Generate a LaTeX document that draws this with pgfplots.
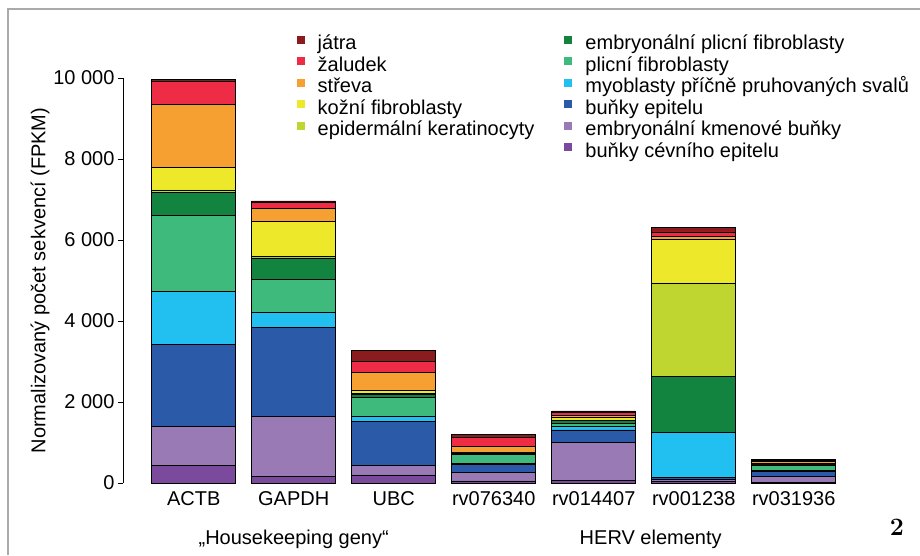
\documentclass[border=0pt]{standalone}
\usepackage{fontspec}
\setmainfont{Liberation Sans}
\newfontfamily\lmfont{Latin Modern Roman}
\usepackage{pgfplots}
\usepackage{pgfplotstable}
\pgfplotsset{compat=1.18}
\definecolor{cjat}{RGB}{140,27,30}
\definecolor{czal}{RGB}{238,44,70}
\definecolor{cstr}{RGB}{247,160,50}
\definecolor{ckoz}{RGB}{238,232,42}
\definecolor{cepid}{RGB}{192,214,48}
\definecolor{cemb}{RGB}{19,132,64}
\definecolor{cplic}{RGB}{61,186,124}
\definecolor{cmyo}{RGB}{34,192,240}
\definecolor{cepi}{RGB}{43,91,168}
\definecolor{cstem}{RGB}{154,122,181}
\definecolor{ccev}{RGB}{123,74,156}
\definecolor{cframe}{RGB}{170,170,170}
\pgfplotstableread{
x cev stem epi myo plic emb epid koz str zal jat
0 444 946 2042 1308 1870 560 65 560 1563 552 65
1 156 1498 2181 380 815 530 28 881 304 170 20
2 198 246 1070 123 469 85 30 75 427 272 281
3 50 205 207 24 230 25 10 14 131 232 74
4 74 930 305 81 83 66 17 74 49 57 42
5 50 30 52 1111 10 1382 2305 1078 66 116 106
6 25 140 131 20 112 20 8 30 40 40 20
}\data
\begin{document}
\begin{tikzpicture}[font=\fontsize{20}{24}\selectfont]
\useasboundingbox (0,0) rectangle (920pt,555pt);
\draw[cframe, line width=1.5pt] (8pt,0) -- (8pt,546pt) -- (920pt,546pt);
\begin{axis}[
  at={(123pt,72pt)}, anchor=south west,
  scale only axis, width=770.7pt, height=405pt,
  xmin=-0.707, xmax=7, ymin=0, ymax=10000,
  ybar stacked, bar width=0.84,
  axis y line*=left, axis x line*=bottom,
  x axis line style={draw=none},
  y axis line style={black, line width=0.8pt, -},
  scaled y ticks=false,
  ytick={0,2000,4000,6000,8000,10000},
  yticklabels={0,2 000,4 000,6 000,8 000,10 000},
  xtick={0,...,6},
  xticklabels={ACTB,GAPDH,UBC,rv076340,rv014407,rv001238,rv031936},
  xtick style={draw=none},
  ytick style={black, line width=0.8pt},
  tick align=outside, major tick length=5pt,
  ylabel={Normalizovaný počet sekvencí (FPKM)},
  ylabel style={at={(axis description cs:-0.1077,0.5)}, anchor=center},
  clip=false,
  every axis plot/.append style={draw=black, line width=0.6pt},
  legend image code/.code={\fill[#1, draw=none] (0pt,1pt) rectangle (8pt,9pt);},
  transpose legend, legend columns=6, legend cell align=left,
  legend style={at={(axis cs:1.03,11090)}, anchor=north west, draw=none, fill=none,
    inner sep=0pt, outer sep=0pt, row sep=0pt,
    /tikz/every odd column/.append style={column sep=11pt},
    /tikz/every even column/.append style={column sep=28pt},
    nodes={text height=15pt, text depth=4.5pt, inner ysep=1pt}},
]
\addlegendimage{fill=cjat}\addlegendentry{játra}
\addlegendimage{fill=czal}\addlegendentry{žaludek}
\addlegendimage{fill=cstr}\addlegendentry{střeva}
\addlegendimage{fill=ckoz}\addlegendentry{kožní fibroblasty}
\addlegendimage{fill=cepid}\addlegendentry{epidermální keratinocyty}
\addlegendimage{empty legend}\addlegendentry{}
\addlegendimage{fill=cemb}\addlegendentry{embryonální plicní fibroblasty}
\addlegendimage{fill=cplic}\addlegendentry{plicní fibroblasty}
\addlegendimage{fill=cmyo}\addlegendentry{myoblasty příčně pruhovaných svalů}
\addlegendimage{fill=cepi}\addlegendentry{buňky epitelu}
\addlegendimage{fill=cstem}\addlegendentry{embryonální kmenové buňky}
\addlegendimage{fill=ccev}\addlegendentry{buňky cévního epitelu}
\addplot[fill=ccev] table[x=x,y=cev]{\data};
\addplot[fill=cstem] table[x=x,y=stem]{\data};
\addplot[fill=cepi] table[x=x,y=epi]{\data};
\addplot[fill=cmyo] table[x=x,y=myo]{\data};
\addplot[fill=cplic] table[x=x,y=plic]{\data};
\addplot[fill=cemb] table[x=x,y=emb]{\data};
\addplot[fill=cepid] table[x=x,y=epid]{\data};
\addplot[fill=ckoz] table[x=x,y=koz]{\data};
\addplot[fill=cstr] table[x=x,y=str]{\data};
\addplot[fill=czal] table[x=x,y=zal]{\data};
\addplot[fill=cjat] table[x=x,y=jat]{\data};
\node[anchor=base] at (axis cs:1,0) [yshift=-61pt] {„Housekeeping geny“};
\node[anchor=base] at (axis cs:4.57,0) [yshift=-61pt] {HERV elementy};
\end{axis}
\node[anchor=base, font=\fontsize{25}{28}\selectfont\lmfont\bfseries] at (897pt,20pt) {2};
\end{tikzpicture}
\end{document}
